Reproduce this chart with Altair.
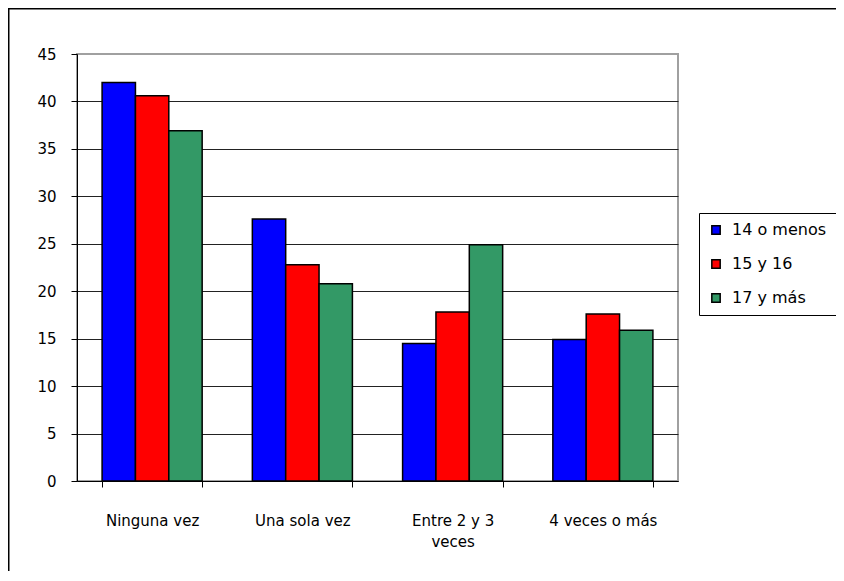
import altair as alt
import pandas as pd

categories = ["Ninguna vez", "Una sola vez", "Entre 2 y 3 veces", "4 veces o más"]
groups = ["14 o menos", "15 y 16", "17 y más"]
v14 = [42.0, 27.6, 14.5, 14.9]
v15 = [40.6, 22.8, 17.8, 17.6]
v17 = [36.9, 20.8, 24.9, 15.9]
colors = ["#0000FF", "#FF0000", "#339966"]
y_ticks = [0, 5, 10, 15, 20, 25, 30, 35, 40, 45]

rows = []
for g, vals in zip(groups, [v14, v15, v17]):
    for c, v in zip(categories, vals):
        rows.append({"cat": c, "grp": g, "val": v})
df = pd.DataFrame(rows)

FONT = "DejaVu Sans"

bars = alt.Chart(df).mark_bar(stroke="black", strokeWidth=1.5).encode(
    x=alt.X("cat:N", sort=categories,
            scale=alt.Scale(paddingInner=0.334, paddingOuter=0.167),
            axis=alt.Axis(title=None, labelAngle=0, tickBand="extent", grid=False,
                          domainColor="black", tickColor="black", tickSize=6,
                          labelPadding=26, labelFont=FONT, labelFontSize=15,
                          labelColor="black", labelLineHeight=21, labelBaseline="top",
                          labelExpr="datum.value == 'Entre 2 y 3 veces' ? ['Entre 2 y 3', 'veces'] : datum.label")),
    xOffset=alt.XOffset("grp:N", sort=groups, scale=alt.Scale(paddingInner=0, paddingOuter=0)),
    y=alt.Y("val:Q", scale=alt.Scale(domain=[0, 45], nice=False),
            axis=alt.Axis(title=None, values=y_ticks, grid=True, gridColor="#222222",
                          gridWidth=1,
                          gridOpacity={"condition": {"test": "datum.value == 45", "value": 0}, "value": 1},
                          domainColor="black", tickColor="black", tickSize=6,
                          labelPadding=15, labelFont=FONT, labelFontSize=15,
                          labelColor="black")),
    color=alt.Color("grp:N", sort=groups,
                    scale=alt.Scale(domain=groups, range=colors),
                    legend=alt.Legend(title=None, orient="none", legendX=622, legendY=159,
                                      strokeColor="black", fillColor="white", padding=9,
                                      symbolType="square", symbolSize=70,
                                      symbolStrokeColor="black", symbolStrokeWidth=1.5,
                                      labelFont=FONT, labelFontSize=16, labelColor="black",
                                      rowPadding=18, labelOffset=8)),
)

frame_data = alt.Data(values=[{"k": 1}])
frame_left = alt.Chart(frame_data).mark_rect(fill="black", strokeWidth=0).encode(
    x=alt.value(-69), x2=alt.value(-67.5), y=alt.value(-46), y2=alt.value(517)
)
frame_top = alt.Chart(frame_data).mark_rect(fill="black", strokeWidth=0).encode(
    x=alt.value(-69), x2=alt.value(759), y=alt.value(-46), y2=alt.value(-44.5)
)

chart = alt.layer(bars, frame_left, frame_top).properties(
    width=601, height=427,
    padding={"left": 69, "top": 46, "right": 158, "bottom": 90},
    autosize=alt.AutoSizeParams(type="none"),
).configure_view(stroke="#a0a0a0", strokeWidth=2)

chart.save("out.html", embed_options={"renderer": "svg", "actions": False})
